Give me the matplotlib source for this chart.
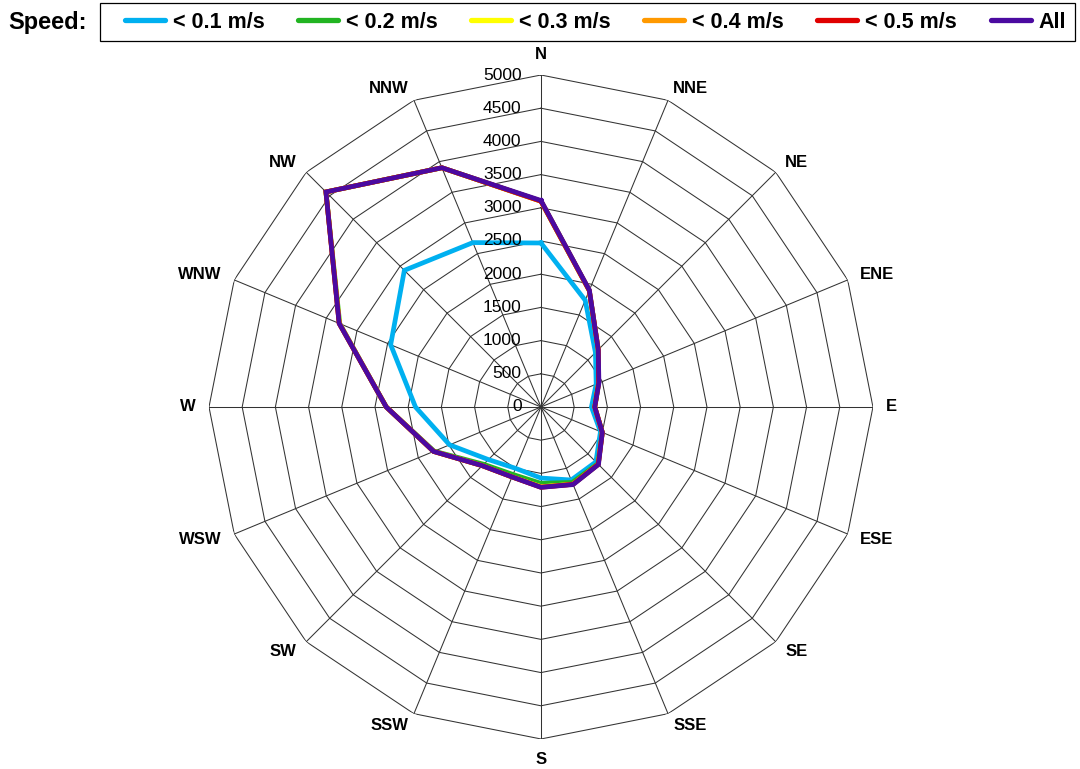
import numpy as np
import matplotlib
matplotlib.use("Agg")
import matplotlib.pyplot as plt
from matplotlib.lines import Line2D
from matplotlib.patches import Rectangle

plt.rcParams["font.family"] = ["Liberation Sans", "DejaVu Sans"]

directions = ["N", "NNE", "NE", "ENE", "E", "ESE", "SE", "SSE",
              "S", "SSW", "SW", "WSW", "W", "WNW", "NW", "NNW"]

speed_01 = [2470, 1740, 1160, 900, 760, 970, 1170, 1190,
            1070, 1000, 1120, 1490, 1890, 2450, 2910, 2680]
speed_02 = [3100, 1900, 1220, 940, 810, 1000, 1210, 1230,
            1150, 1100, 1220, 1740, 2330, 3280, 4580, 3900]
speed_03 = [3100, 1900, 1220, 940, 810, 1000, 1220, 1260,
            1200, 1140, 1250, 1750, 2330, 3285, 4580, 3900]
speed_04 = [3100, 1900, 1220, 940, 810, 1000, 1220, 1260,
            1205, 1140, 1250, 1750, 2330, 3290, 4580, 3900]
speed_05 = [3100, 1900, 1220, 940, 810, 1000, 1220, 1260,
            1210, 1140, 1250, 1750, 2330, 3290, 4580, 3900]
speed_all = [3110, 1905, 1220, 945, 810, 1000, 1225, 1265,
             1210, 1140, 1250, 1750, 2330, 3290, 4580, 3900]

series_labels = ["< 0.1 m/s", "< 0.2 m/s", "< 0.3 m/s", "< 0.4 m/s", "< 0.5 m/s", "All"]
series_values = [speed_01, speed_02, speed_03, speed_04, speed_05, speed_all]
series_colors = ["#00B0F0", "#22B422", "#FFFF00", "#FF9900", "#E00000", "#4B0AA0"]

ring_values = list(range(0, 5001, 500))
r_max = 5000

W, H = 1080, 769
fig = plt.figure(figsize=(W / 100, H / 100), dpi=100)
ax = fig.add_axes([0.1935, 0.039, 0.6148, 0.8635], projection="polar")
ax.set_theta_zero_location("N")
ax.set_theta_direction(-1)
ax.set_ylim(0, r_max)
ax.grid(False)
ax.set_xticks([])
ax.set_yticks([])
ax.spines["polar"].set_visible(False)
ax.patch.set_visible(False)

n = len(directions)
theta = np.arange(n) * 2 * np.pi / n
theta_closed = np.append(theta, theta[0])

# polygon rings and spokes
for r in ring_values[1:]:
    ax.plot(theta_closed, [r] * (n + 1), color="#333333", lw=0.75, zorder=1)
for t in theta:
    ax.plot([t, t], [0, r_max], color="#333333", lw=0.75, zorder=1)

# data series
for vals, col, lab in zip(series_values, series_colors, series_labels):
    v = np.append(vals, vals[0])
    ax.plot(theta_closed, v, color=col, lw=3.4, zorder=3,
            solid_joinstyle="miter", label=lab)

# direction labels, anchored on the side facing the centre
for t, name in zip(theta, directions):
    s, c = np.sin(t), np.cos(t)
    ha = "left" if s > 0.01 else ("right" if s < -0.01 else "center")
    if abs(s) < 0.01:
        va = "bottom" if c > 0 else "top"
    else:
        va = "center"
    ax.text(t, 5200, name, ha=ha, va=va, fontsize=12,
            fontweight="bold", clip_on=False)

# radial value labels along the north spoke
for r in ring_values:
    ax.annotate(str(r), xy=(0, r), xytext=(-14, 0), textcoords="offset points",
                ha="right", va="center", fontsize=12.5, zorder=4)

# legend strip with its own frame
fig.patches.append(Rectangle((100 / W, 1 - 41 / H), 975 / W, 38 / H,
                             transform=fig.transFigure, facecolor="white",
                             edgecolor="black", linewidth=0.9, zorder=0))
handles = [Line2D([0], [0], color=c, lw=3.8, solid_capstyle="round")
           for c in series_colors]
leg = fig.legend(handles, series_labels, ncol=6, loc="center left",
                 bbox_to_anchor=(125 / W, 1 - 22 / H),
                 frameon=False, prop={"size": 15.5, "weight": "bold"},
                 handlelength=1.86, handletextpad=0.37, columnspacing=1.55,
                 borderaxespad=0, borderpad=0)
fig.text(8 / W, 1 - 22 / H, "Speed:", ha="left", va="center",
         fontsize=17, fontweight="bold")

fig.savefig("out.png", dpi=100, facecolor="white")
